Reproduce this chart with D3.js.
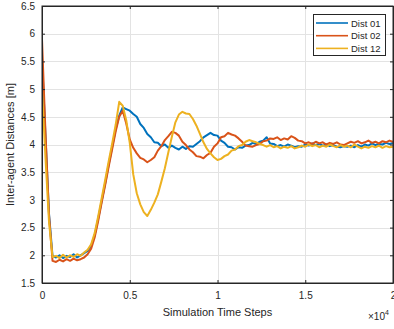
<!DOCTYPE html>
<html>
<head>
<meta charset="utf-8">
<style>
body { margin: 0; background: #fff; }
text { font-family: "Liberation Sans", Arial, sans-serif; fill: #262626; }
.grid line { stroke: #e3e3e3; stroke-width: 1px; }
path.line { fill: none; stroke-width: 2px; stroke-linejoin: round; }
</style>
</head>
<body>
<script src="https://cdn.jsdelivr.net/npm/d3@7"></script>
<script>

// time steps, sampled every 200
var steps = d3.range(0, 20001, 200);

var dist01 = [
  5.55, 4.15, 2.75, 1.99, 1.96, 2.00, 1.95, 1.99, 1.97, 2.02,
  1.96, 2.00, 2.04, 2.08, 2.17, 2.36, 2.66, 2.98, 3.30, 3.64,
  3.96, 4.28, 4.52, 4.67, 4.64, 4.61, 4.55, 4.50, 4.37, 4.30,
  4.19, 4.13, 4.04, 4.03, 3.97, 4.00, 3.94, 3.98, 3.94, 3.91,
  3.96, 3.92, 3.97, 3.96, 4.01, 4.06, 4.13, 4.17, 4.21, 4.17,
  4.16, 4.07, 4.03, 3.96, 3.95, 3.91, 3.95, 3.94, 3.98, 3.99,
  4.03, 4.01, 4.05, 4.07, 4.13, 4.02, 4.01, 3.97, 3.99, 3.96,
  4.00, 3.98, 3.95, 3.97, 3.96, 4.00, 3.98, 4.02, 3.99, 4.01,
  3.98, 4.00, 3.97, 3.99, 3.96, 3.95, 3.97, 3.96, 3.98, 3.95,
  3.99, 3.96, 4.00, 3.98, 4.02, 3.99, 4.01, 4.00, 4.03, 4.01,
  4.03
];

var dist02 = [
  5.90, 4.20, 2.72, 1.90, 1.88, 1.92, 1.89, 1.93, 1.90, 1.94,
  1.91, 1.93, 1.96, 2.02, 2.12, 2.32, 2.62, 2.95, 3.27, 3.60,
  3.92, 4.24, 4.50, 4.61, 4.38, 4.09, 3.94, 3.84, 3.76, 3.73,
  3.68, 3.72, 3.77, 3.89, 3.97, 4.08, 4.15, 4.23, 4.21, 4.16,
  4.05, 3.99, 3.91, 3.86, 3.79, 3.78, 3.75, 3.81, 3.85, 3.96,
  4.02, 4.13, 4.15, 4.21, 4.18, 4.16, 4.11, 4.05, 3.98, 3.97,
  3.96, 3.99, 4.01, 4.06, 4.07, 4.11, 4.10, 4.13, 4.08, 4.11,
  4.09, 4.15, 4.12, 4.07, 4.06, 4.02, 4.04, 4.01, 4.05, 4.02,
  4.04, 4.00, 4.03, 4.01, 4.04, 4.00, 3.99, 4.02, 4.05, 4.03,
  4.06, 4.02, 4.04, 4.07, 4.03, 4.05, 4.02, 4.06, 4.04, 4.07,
  4.05
];

var dist12 = [
  5.00, 3.75, 2.60, 1.97, 1.99, 1.95, 2.01, 1.96, 2.00, 1.97,
  2.02, 1.99, 2.05, 2.10, 2.20, 2.40, 2.70, 3.03, 3.36, 3.70,
  4.02, 4.36, 4.77, 4.70, 4.44, 4.03, 3.46, 3.12, 2.92, 2.78,
  2.71, 2.82, 2.95, 3.10, 3.33, 3.57, 3.86, 4.14, 4.40, 4.54,
  4.59, 4.56, 4.55, 4.46, 4.34, 4.19, 4.04, 3.92, 3.84, 3.77,
  3.72, 3.74, 3.79, 3.82, 3.89, 3.91, 3.97, 3.99, 4.05, 4.08,
  4.06, 4.04, 4.01, 3.99, 3.96, 3.99, 3.95, 3.97, 3.93, 3.96,
  3.94, 3.97, 3.93, 3.95, 3.98, 3.96, 4.00, 3.97, 3.99, 3.95,
  3.98, 3.96, 4.00, 3.97, 3.95, 3.99, 3.96, 3.98, 3.95, 4.00,
  3.96, 3.93, 3.96, 3.94, 3.97, 3.95, 3.98, 3.94, 3.97, 3.95,
  3.96
];

var seriesNames = ["Dist 01", "Dist 02", "Dist 12"];
var seriesColors = ["#0072bd", "#d95319", "#edb120"];
var xTicks = [0, 5000, 10000, 15000, 20000];
var xTickLabels = ["0", "0.5", "1", "1.5", "2"];
var yTicks = [1.5, 2, 2.5, 3, 3.5, 4, 4.5, 5, 5.5, 6, 6.5];

var width = 394, height = 329;
var plotLeft = 42, plotRight = 393, plotTop = 6, plotBottom = 283;

var svg = d3.select("body").append("svg")
    .attr("width", width)
    .attr("height", height);

var x = d3.scaleLinear().domain([0, 20000]).range([plotLeft, plotRight]);
var y = d3.scaleLinear().domain([1.5, 6.5]).range([plotBottom, plotTop]);

// grid
var grid = svg.append("g").attr("class", "grid");
grid.selectAll(".gx").data(xTicks).enter().append("line")
    .attr("x1", function(d) { return Math.round(x(d)) + 0.5; })
    .attr("x2", function(d) { return Math.round(x(d)) + 0.5; })
    .attr("y1", plotTop).attr("y2", plotBottom);
grid.selectAll(".gy").data(yTicks).enter().append("line")
    .attr("y1", function(d) { return Math.round(y(d)) + 0.5; })
    .attr("y2", function(d) { return Math.round(y(d)) + 0.5; })
    .attr("x1", plotLeft).attr("x2", plotRight);

svg.append("clipPath").attr("id", "clip")
  .append("rect")
    .attr("x", plotLeft).attr("y", plotTop)
    .attr("width", plotRight - plotLeft).attr("height", plotBottom - plotTop);

var line = d3.line()
    .x(function(d, i) { return x(steps[i]); })
    .y(function(d) { return y(d); });

var allSeries = [dist01, dist02, dist12];

svg.append("g").attr("clip-path", "url(#clip)")
  .selectAll("path")
  .data(allSeries)
  .enter().append("path")
    .attr("class", "line")
    .attr("d", line)
    .style("stroke", function(d, i) { return seriesColors[i]; });

// axes, matlab style: ticks inward on all four sides
var axisColor = "#262626";

var xAxis = d3.axisBottom(x).tickValues(xTicks)
    .tickFormat(function(d, i) { return xTickLabels[i]; })
    .tickSizeInner(-3).tickSizeOuter(0).tickPadding(9);
var yAxis = d3.axisLeft(y).tickValues(yTicks)
    .tickFormat(function(d) { return d3.format("")(d); })
    .tickSizeInner(-3).tickSizeOuter(0).tickPadding(7);

svg.append("g")
    .attr("transform", "translate(0," + plotBottom + ")")
    .call(xAxis);
svg.append("g")
    .attr("transform", "translate(" + plotLeft + ",0)")
    .call(yAxis);

svg.append("g").attr("transform", "translate(0," + plotTop + ")")
    .call(d3.axisTop(x).tickValues(xTicks).tickFormat("").tickSizeInner(-3).tickSizeOuter(0));
svg.append("g").attr("transform", "translate(" + plotRight + ",0)")
    .call(d3.axisRight(y).tickValues(yTicks).tickFormat("").tickSizeInner(-3).tickSizeOuter(0));

svg.selectAll(".domain").style("stroke", axisColor);
svg.selectAll(".tick line").style("stroke", axisColor);
svg.selectAll(".tick text")
    .style("font-size", "10px")
    .style("fill", axisColor);

svg.append("rect")
    .attr("x", plotLeft).attr("y", plotTop)
    .attr("width", plotRight - plotLeft).attr("height", plotBottom - plotTop)
    .style("fill", "none")
    .style("stroke", axisColor)
    .style("stroke-width", 1);

// labels
svg.append("text")
    .attr("x", (plotLeft + plotRight) / 2)
    .attr("y", 316)
    .attr("text-anchor", "middle")
    .style("font-size", "11px")
    .text("Simulation Time Steps");

svg.append("text")
    .attr("transform", "translate(14," + ((plotTop + plotBottom) / 2) + ") rotate(-90)")
    .attr("text-anchor", "middle")
    .style("font-size", "11px")
    .text("Inter-agent Distances [m]");

var mult = svg.append("text")
    .attr("x", 368)
    .attr("y", 320)
    .style("font-size", "10px");
mult.append("tspan").text("\u00d710");
mult.append("tspan").attr("dy", -5).style("font-size", "7px").text("4");

// legend
var legend = svg.append("g");
legend.append("rect")
    .attr("x", 313.5).attr("y", 14.5)
    .attr("width", 72).attr("height", 41)
    .style("fill", "#fff")
    .style("stroke", axisColor)
    .style("stroke-width", 1);

var entry = legend.selectAll(".entry")
    .data(seriesNames)
    .enter().append("g")
    .attr("transform", function(d, i) { return "translate(0," + (23 + i * 12.7) + ")"; });

entry.append("line")
    .attr("x1", 316).attr("x2", 348)
    .attr("y1", 0).attr("y2", 0)
    .style("stroke", function(d, i) { return seriesColors[i]; })
    .style("stroke-width", 1.6);

entry.append("text")
    .attr("x", 351)
    .attr("y", 3.5)
    .style("font-size", "9.5px")
    .text(function(d) { return d; });

</script>
</body>
</html>
